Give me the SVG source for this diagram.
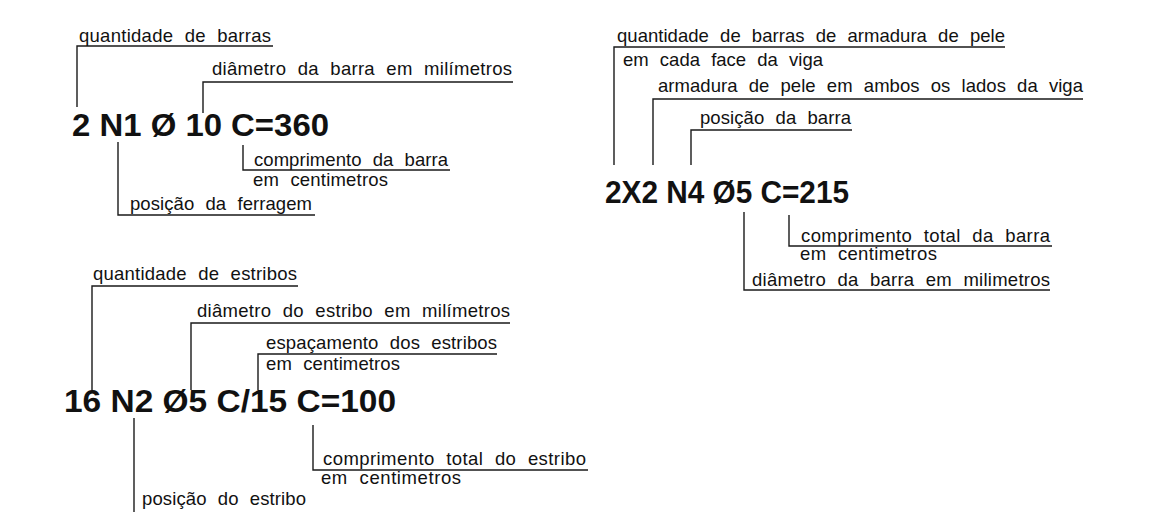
<svg xmlns="http://www.w3.org/2000/svg" width="1158" height="524" viewBox="0 0 1158 524">
<style>
.lbl{font-family:"Liberation Sans",Arial,sans-serif;font-size:18.5px;fill:#111;word-spacing:6px}
.main{font-family:"Liberation Sans",Arial,sans-serif;font-size:31px;font-weight:bold;fill:#111}
.ln{stroke:#1a1a1a;stroke-width:1.4;fill:none}
</style>
<rect width="1158" height="524" fill="#fff"/>
<g id="connectors">
<polyline class="ln" points="273,46 77,46 77,107"/>
<polyline class="ln" points="513,82 203,82 203,113"/>
<polyline class="ln" points="118,142 118,215 315,215"/>
<polyline class="ln" points="243,145 243,170 450,170"/>
<polyline class="ln" points="1005,47 614,47 614,165"/>
<polyline class="ln" points="1083,99 653,99 653,165"/>
<polyline class="ln" points="852,130 691,130 691,165"/>
<polyline class="ln" points="744,212 744,290 1050,290"/>
<polyline class="ln" points="789,215 789,246 1052,246"/>
<polyline class="ln" points="298,286 92,286 92,390"/>
<polyline class="ln" points="510,323 191,323 191,390"/>
<polyline class="ln" points="497,354 258,354 258,390"/>
<polyline class="ln" points="134,418 134,512"/>
<polyline class="ln" points="313,425 313,470 588,470"/>
</g>
<g id="node-n1">
<text class="main" x="72" y="136" textLength="257" lengthAdjust="spacingAndGlyphs">2 N1 Ø 10 C=360</text>
<text class="lbl" x="79" y="42" textLength="192" lengthAdjust="spacing">quantidade de barras</text>
<text class="lbl" x="212" y="75" textLength="300" lengthAdjust="spacing">diâmetro da barra em milímetros</text>
<text class="lbl" x="254" y="166" textLength="194" lengthAdjust="spacing">comprimento da barra</text>
<text class="lbl" x="253" y="186" textLength="135" lengthAdjust="spacing">em centimetros</text>
<text class="lbl" x="130" y="210" textLength="182" lengthAdjust="spacing">posição da ferragem</text>
</g>
<g id="node-n4">
<text class="main" x="605" y="203" textLength="244" lengthAdjust="spacingAndGlyphs">2X2 N4 Ø5 C=215</text>
<text class="lbl" x="617" y="42" textLength="388" lengthAdjust="spacing">quantidade de barras de armadura de pele</text>
<text class="lbl" x="623" y="66" textLength="200" lengthAdjust="spacing">em cada face da viga</text>
<text class="lbl" x="658" y="92" textLength="425" lengthAdjust="spacing">armadura de pele em ambos os lados da viga</text>
<text class="lbl" x="700" y="124" textLength="151" lengthAdjust="spacing">posição da barra</text>
<text class="lbl" x="801" y="242" textLength="249" lengthAdjust="spacing">comprimento total da barra</text>
<text class="lbl" x="800" y="260" textLength="137" lengthAdjust="spacing">em centimetros</text>
<text class="lbl" x="752" y="286" textLength="298" lengthAdjust="spacing">diâmetro da barra em milimetros</text>
</g>
<g id="node-n2">
<text class="main" x="64" y="412" textLength="332" lengthAdjust="spacingAndGlyphs">16 N2 Ø5 C/15 C=100</text>
<text class="lbl" x="93" y="280" textLength="204" lengthAdjust="spacing">quantidade de estribos</text>
<text class="lbl" x="197" y="317" textLength="313" lengthAdjust="spacing">diâmetro do estribo em milímetros</text>
<text class="lbl" x="266" y="349" textLength="231" lengthAdjust="spacing">espaçamento dos estribos</text>
<text class="lbl" x="266" y="370" textLength="134" lengthAdjust="spacing">em centimetros</text>
<text class="lbl" x="323" y="465" textLength="263" lengthAdjust="spacing">comprimento total do estribo</text>
<text class="lbl" x="321" y="484" textLength="140" lengthAdjust="spacing">em centimetros</text>
<text class="lbl" x="142" y="505" textLength="164" lengthAdjust="spacing">posição do estribo</text>
</g>
</svg>
